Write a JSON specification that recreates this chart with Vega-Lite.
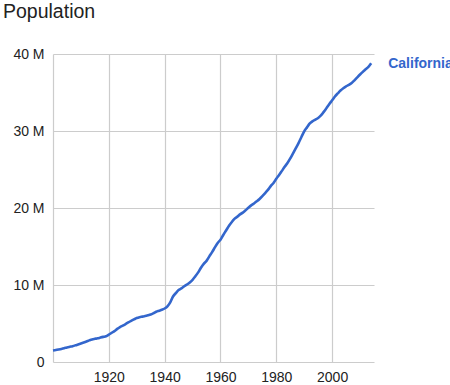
{
  "$schema": "https://vega.github.io/schema/vega-lite/v6.json",
  "width": 321,
  "height": 308,
  "autosize": "none",
  "padding": {"left": 53, "top": 54, "right": 76, "bottom": 23},
  "background": "white",
  "config": {
    "view": {"stroke": null},
    "font": "Liberation Sans"
  },
  "title": {
    "text": "Population",
    "anchor": "start",
    "frame": "group",
    "fontSize": 19.5,
    "fontWeight": "normal",
    "color": "#222222",
    "font": "Liberation Sans",
    "baseline": "alphabetic",
    "dx": -50,
    "offset": 10
  },
  "data": {
    "values": [
      {"year": 1900, "population": 1490000},
      {"year": 1901, "population": 1550000},
      {"year": 1902, "population": 1623000},
      {"year": 1903, "population": 1702000},
      {"year": 1904, "population": 1792000},
      {"year": 1905, "population": 1893000},
      {"year": 1906, "population": 1976000},
      {"year": 1907, "population": 2054000},
      {"year": 1908, "population": 2161000},
      {"year": 1909, "population": 2282000},
      {"year": 1910, "population": 2406000},
      {"year": 1911, "population": 2534000},
      {"year": 1912, "population": 2668000},
      {"year": 1913, "population": 2811000},
      {"year": 1914, "population": 2934000},
      {"year": 1915, "population": 3008000},
      {"year": 1916, "population": 3071000},
      {"year": 1917, "population": 3171000},
      {"year": 1918, "population": 3262000},
      {"year": 1919, "population": 3339000},
      {"year": 1920, "population": 3554000},
      {"year": 1921, "population": 3795000},
      {"year": 1922, "population": 4007000},
      {"year": 1923, "population": 4297000},
      {"year": 1924, "population": 4541000},
      {"year": 1925, "population": 4730000},
      {"year": 1926, "population": 4929000},
      {"year": 1927, "population": 5147000},
      {"year": 1928, "population": 5344000},
      {"year": 1929, "population": 5531000},
      {"year": 1930, "population": 5711000},
      {"year": 1931, "population": 5824000},
      {"year": 1932, "population": 5894000},
      {"year": 1933, "population": 5963000},
      {"year": 1934, "population": 6060000},
      {"year": 1935, "population": 6175000},
      {"year": 1936, "population": 6341000},
      {"year": 1937, "population": 6528000},
      {"year": 1938, "population": 6656000},
      {"year": 1939, "population": 6785000},
      {"year": 1940, "population": 6950000},
      {"year": 1941, "population": 7237000},
      {"year": 1942, "population": 7735000},
      {"year": 1943, "population": 8506000},
      {"year": 1944, "population": 8945000},
      {"year": 1945, "population": 9344000},
      {"year": 1946, "population": 9559000},
      {"year": 1947, "population": 9832000},
      {"year": 1948, "population": 10064000},
      {"year": 1949, "population": 10337000},
      {"year": 1950, "population": 10677000},
      {"year": 1951, "population": 11134000},
      {"year": 1952, "population": 11635000},
      {"year": 1953, "population": 12251000},
      {"year": 1954, "population": 12746000},
      {"year": 1955, "population": 13133000},
      {"year": 1956, "population": 13713000},
      {"year": 1957, "population": 14264000},
      {"year": 1958, "population": 14880000},
      {"year": 1959, "population": 15467000},
      {"year": 1960, "population": 15870000},
      {"year": 1961, "population": 16497000},
      {"year": 1962, "population": 17072000},
      {"year": 1963, "population": 17668000},
      {"year": 1964, "population": 18151000},
      {"year": 1965, "population": 18585000},
      {"year": 1966, "population": 18858000},
      {"year": 1967, "population": 19176000},
      {"year": 1968, "population": 19394000},
      {"year": 1969, "population": 19711000},
      {"year": 1970, "population": 20039000},
      {"year": 1971, "population": 20346000},
      {"year": 1972, "population": 20585000},
      {"year": 1973, "population": 20869000},
      {"year": 1974, "population": 21174000},
      {"year": 1975, "population": 21538000},
      {"year": 1976, "population": 21936000},
      {"year": 1977, "population": 22352000},
      {"year": 1978, "population": 22836000},
      {"year": 1979, "population": 23257000},
      {"year": 1980, "population": 23800000},
      {"year": 1981, "population": 24286000},
      {"year": 1982, "population": 24820000},
      {"year": 1983, "population": 25360000},
      {"year": 1984, "population": 25844000},
      {"year": 1985, "population": 26441000},
      {"year": 1986, "population": 27102000},
      {"year": 1987, "population": 27777000},
      {"year": 1988, "population": 28464000},
      {"year": 1989, "population": 29218000},
      {"year": 1990, "population": 29960000},
      {"year": 1991, "population": 30471000},
      {"year": 1992, "population": 30975000},
      {"year": 1993, "population": 31275000},
      {"year": 1994, "population": 31484000},
      {"year": 1995, "population": 31697000},
      {"year": 1996, "population": 32019000},
      {"year": 1997, "population": 32486000},
      {"year": 1998, "population": 32988000},
      {"year": 1999, "population": 33499000},
      {"year": 2000, "population": 33988000},
      {"year": 2001, "population": 34485000},
      {"year": 2002, "population": 34876000},
      {"year": 2003, "population": 35251000},
      {"year": 2004, "population": 35558000},
      {"year": 2005, "population": 35795000},
      {"year": 2006, "population": 35979000},
      {"year": 2007, "population": 36226000},
      {"year": 2008, "population": 36580000},
      {"year": 2009, "population": 36962000},
      {"year": 2010, "population": 37334000},
      {"year": 2011, "population": 37683000},
      {"year": 2012, "population": 38011000},
      {"year": 2013, "population": 38335000},
      {"year": 2014, "population": 38802000}
    ]
  },
  "encoding": {
    "x": {
      "field": "year",
      "type": "quantitative",
      "scale": {"domain": [1900, 2015], "nice": false, "zero": false},
      "axis": {
        "title": null,
        "values": [1900, 1920, 1940, 1960, 1980, 2000],
        "labelExpr": "datum.value == 1900 ? '' : datum.label",
        "format": "d",
        "domain": false,
        "ticks": false,
        "tickSize": 0,
        "labelPadding": 8,
        "labelFontSize": 14,
        "labelColor": "#222222",
        "labelFont": "Liberation Sans",
        "gridColor": "#cccccc",
        "gridWidth": 1.2
      }
    },
    "y": {
      "field": "population",
      "type": "quantitative",
      "scale": {"domain": [0, 40000000], "nice": false},
      "axis": {
        "title": null,
        "values": [0, 10000000, 20000000, 30000000, 40000000],
        "labelExpr": "datum.value == 0 ? '0' : (datum.value / 1000000) + ' M'",
        "domain": false,
        "ticks": false,
        "tickSize": 0,
        "labelPadding": 9,
        "labelFontSize": 14,
        "labelColor": "#222222",
        "labelFont": "Liberation Sans",
        "gridColor": "#cccccc",
        "gridWidth": 1.2
      }
    }
  },
  "layer": [
    {
      "mark": {"type": "line", "color": "#3366cc", "strokeWidth": 2.6, "interpolate": "monotone", "clip": false}
    },
    {
      "transform": [{"filter": "datum.year == 2014"}],
      "mark": {
        "type": "text",
        "text": "California",
        "align": "left",
        "baseline": "middle",
        "dx": 17,
        "dy": 1,
        "fontSize": 14,
        "fontWeight": "bold",
        "font": "Liberation Sans",
        "color": "#3366cc"
      }
    }
  ]
}
